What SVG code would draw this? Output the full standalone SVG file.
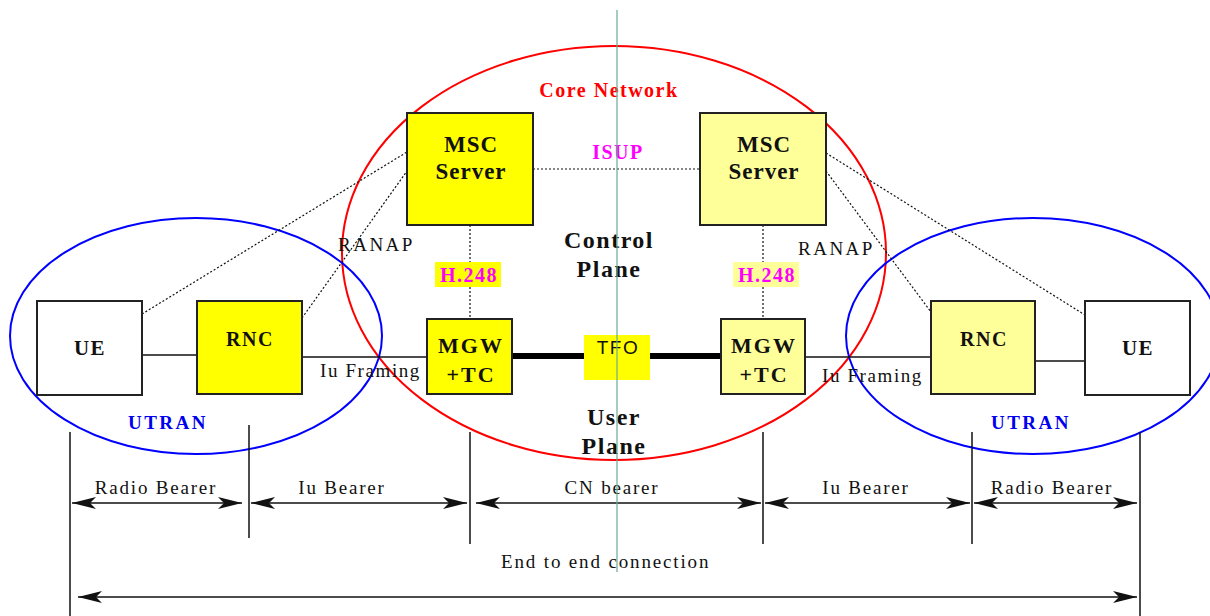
<svg xmlns="http://www.w3.org/2000/svg" width="1210" height="616" viewBox="0 0 1210 616">
<style>
.box{stroke:#222;stroke-width:2}
.y1{fill:#ffff00}
.y2{fill:#ffff99}
.w{fill:#fff}
.bl{font-family:"Liberation Serif",serif;font-weight:bold;fill:#111;text-anchor:middle}
.n{font-family:"Liberation Serif",serif;fill:#111}
.dot{stroke:#111;stroke-width:1.2;stroke-dasharray:2 2;fill:none}
.ln{stroke:#111;stroke-width:1.5;fill:none}
.mg{font-family:"Liberation Serif",serif;font-weight:bold;fill:#ff00ff;text-anchor:middle;font-size:20px;letter-spacing:1.5px}
.ut{font-family:"Liberation Serif",serif;font-weight:bold;fill:#0000ee;text-anchor:middle;font-size:19px;letter-spacing:2.5px}
.arr{stroke:#111;stroke-width:1.5;fill:none;marker-start:url(#ah);marker-end:url(#ah)}
</style>
<defs>
<marker id="ah" markerUnits="userSpaceOnUse" markerWidth="26" markerHeight="14" refX="24" refY="7" orient="auto-start-reverse">
<path d="M24,7 L0,1 L6,7 L0,13 Z" fill="#111"/>
</marker>
</defs>
<rect width="1210" height="616" fill="#fff"/>

<g id="ellipses" fill="none" stroke-width="2">
<ellipse id="core-network" cx="614" cy="253" rx="272" ry="207" stroke="#ff0000"/>
<ellipse id="utran-left" cx="196" cy="336" rx="186" ry="118" stroke="#0000ff"/>
<ellipse id="utran-right" cx="1033" cy="336" rx="187" ry="118" stroke="#0000ff"/>
</g>

<g id="connectors">
<line class="ln" x1="142" y1="355" x2="197" y2="355"/>
<line class="ln" x1="302" y1="357" x2="427" y2="357"/>
<line x1="512" y1="356" x2="721" y2="356" stroke="#000" stroke-width="6"/>
<line class="ln" x1="805" y1="357" x2="931" y2="357"/>
<line class="ln" x1="1035" y1="361" x2="1085" y2="361"/>
<line class="dot" x1="533" y1="169" x2="700" y2="169"/>
<line class="dot" x1="470" y1="225" x2="470" y2="262"/>
<line class="dot" x1="470" y1="287" x2="470" y2="319"/>
<line class="dot" x1="763" y1="225" x2="763" y2="262"/>
<line class="dot" x1="763" y1="287" x2="763" y2="319"/>
<line class="dot" x1="142" y1="314" x2="407" y2="152"/>
<line class="dot" x1="302" y1="318" x2="407" y2="171"/>
<line class="dot" x1="826" y1="153" x2="1085" y2="315"/>
<line class="dot" x1="826" y1="171" x2="931" y2="312"/>
</g>

<g id="ue-left"><rect class="box w" x="37" y="301" width="105" height="94"/><text class="bl" x="90" y="355" font-size="21" letter-spacing="1.5">UE</text></g>
<g id="rnc-left"><rect class="box y1" x="197" y="301" width="105" height="93"/><text class="bl" x="250" y="346" font-size="20" letter-spacing="1.5">RNC</text></g>
<g id="msc-left"><rect class="box y1" x="407" y="113" width="126" height="112"/><text class="bl" x="471" y="152" font-size="23" letter-spacing="1">MSC</text><text class="bl" x="471" y="179" font-size="23" letter-spacing="1">Server</text></g>
<g id="msc-right"><rect class="box y2" x="700" y="113" width="126" height="112"/><text class="bl" x="764" y="152" font-size="23" letter-spacing="1">MSC</text><text class="bl" x="764" y="179" font-size="23" letter-spacing="1">Server</text></g>
<g id="mgw-left"><rect class="box y1" x="427" y="319" width="85" height="75"/><text class="bl" x="471" y="353" font-size="22" letter-spacing="2">MGW</text><text class="bl" x="471" y="382" font-size="22" letter-spacing="2">+TC</text></g>
<g id="mgw-right"><rect class="box y2" x="721" y="319" width="84" height="75"/><text class="bl" x="764" y="353" font-size="22" letter-spacing="2">MGW</text><text class="bl" x="764" y="382" font-size="22" letter-spacing="2">+TC</text></g>
<g id="rnc-right"><rect class="box y2" x="931" y="301" width="104" height="93"/><text class="bl" x="984" y="346" font-size="20" letter-spacing="1.5">RNC</text></g>
<g id="ue-right"><rect class="box w" x="1085" y="301" width="105" height="94"/><text class="bl" x="1138" y="355" font-size="21" letter-spacing="1.5">UE</text></g>
<g id="tfo"><rect x="584" y="335" width="66" height="45" fill="#ffff00"/><text x="618" y="354" font-family="Liberation Sans,sans-serif" font-size="19" letter-spacing="1.5" text-anchor="middle" fill="#111">TFO</text></g>
<g id="h248-left"><rect x="435" y="262" width="66" height="25" fill="#ffff00"/><text class="mg" x="469" y="282">H.248</text></g>
<g id="h248-right"><rect x="733" y="262" width="66" height="25" fill="#ffff99"/><text class="mg" x="767" y="282">H.248</text></g>

<g id="labels">
<text x="609" y="97" font-family="Liberation Serif,serif" font-weight="bold" font-size="20" letter-spacing="1.5" fill="#ff0000" text-anchor="middle">Core Network</text>
<text class="mg" x="618" y="159">ISUP</text>
<text class="bl" x="609" y="248" font-size="24" letter-spacing="1.5">Control</text>
<text class="bl" x="609" y="277" font-size="24" letter-spacing="1.5">Plane</text>
<text class="bl" x="614" y="425" font-size="24" letter-spacing="1.5">User</text>
<text class="bl" x="614" y="454" font-size="24" letter-spacing="1.5">Plane</text>
<text class="ut" x="168" y="429">UTRAN</text>
<text class="ut" x="1031" y="429">UTRAN</text>
<text class="n" x="320" y="377" font-size="19" letter-spacing="1.6">Iu Framing</text>
<text class="n" x="822" y="382" font-size="19" letter-spacing="1.6">Iu Framing</text>
<text class="n" x="338" y="251" font-size="19" letter-spacing="2.5">RANAP</text>
<text class="n" x="798" y="255" font-size="19" letter-spacing="2.5">RANAP</text>
</g>

<g id="bearers">
<line class="ln" x1="70" y1="432" x2="70" y2="616"/>
<line class="ln" x1="249" y1="425" x2="249" y2="538"/>
<line class="ln" x1="470" y1="432" x2="470" y2="544"/>
<line class="ln" x1="763" y1="432" x2="763" y2="544"/>
<line class="ln" x1="972" y1="432" x2="972" y2="544"/>
<line class="ln" x1="1140" y1="432" x2="1140" y2="616"/>
<line class="arr" x1="72" y1="503" x2="242" y2="503"/>
<line class="arr" x1="251" y1="503" x2="467" y2="503"/>
<line class="arr" x1="476" y1="503" x2="761" y2="503"/>
<line class="arr" x1="765" y1="503" x2="970" y2="503"/>
<line class="arr" x1="974" y1="503" x2="1137" y2="503"/>
<line class="arr" x1="78" y1="597" x2="1137" y2="597"/>
<g class="n" font-size="19" letter-spacing="1.8" text-anchor="middle">
<text x="156" y="494">Radio Bearer</text>
<text x="342" y="494">Iu Bearer</text>
<text x="612" y="494">CN bearer</text>
<text x="866" y="494">Iu Bearer</text>
<text x="1052" y="494">Radio Bearer</text>
</g>
<text class="n" x="501" y="568" font-size="19" letter-spacing="1.85">End to end connection</text>
</g>

<line id="axis" x1="617" y1="10" x2="617" y2="572" stroke="#6aaa94" stroke-width="1.2"/>
</svg>
